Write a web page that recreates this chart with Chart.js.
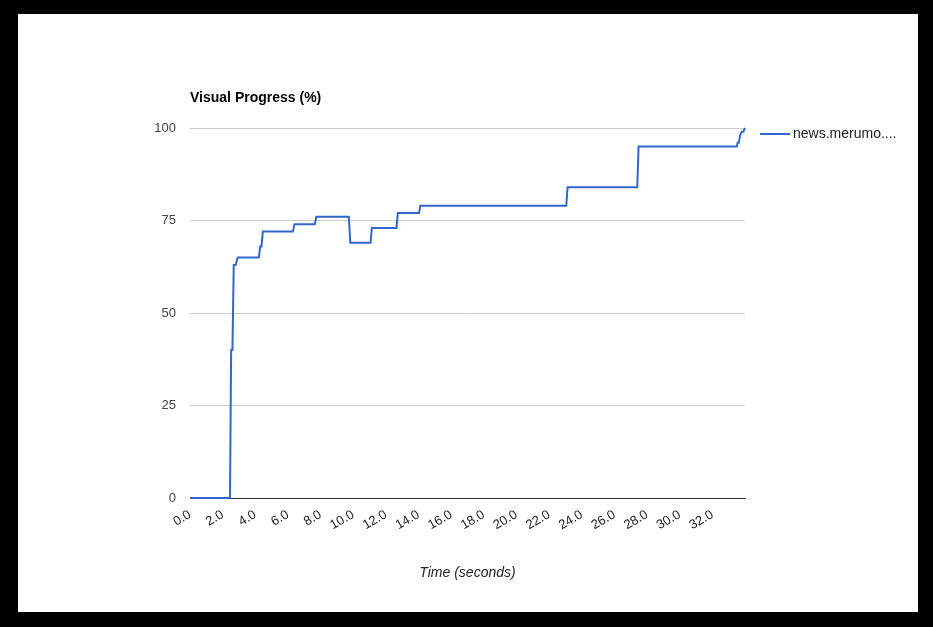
<!DOCTYPE html>
<html>
<head>
<meta charset="utf-8">
<script src="https://cdn.jsdelivr.net/npm/chart.js@4.4.1/dist/chart.umd.min.js"></script>
<style>
  html, body { margin: 0; padding: 0; background: #000; }
  #wrap { position: absolute; left: 18px; top: 14px; width: 900px; height: 598px; background: #fff; }
</style>
</head>
<body>
<div id="wrap"><canvas id="myChart"></canvas></div>
<script>
// Visual progress over time
var seriesLabel = "news.merumo....";
var times    = [0, 2.45, 2.52, 2.6, 2.68, 2.8, 2.92, 4.22, 4.3, 4.38, 4.46, 6.3, 6.4, 7.65, 7.74, 9.73, 9.82, 11.06, 11.14, 12.65, 12.73, 14.03, 14.11, 23.05, 23.13, 27.4, 27.48, 33.5, 33.55, 33.62, 33.7, 33.8, 33.9, 34.0];
var progress = [0, 0,    40,   40,  63,   63,  65,   65,   68,  68,   72,   72,  74,  74,   76,   76,   69,   69,    73,    73,    77,    77,    79,    79,    84,    84,   95,    95,   96,    96,    98,   99,   99,   100];
var xTicks = [0, 2, 4, 6, 8, 10, 12, 14, 16, 18, 20, 22, 24, 26, 28, 30, 32];
var yTicks = [0, 25, 50, 75, 100];

var points = times.map((t, i) => ({ x: t, y: progress[i] }));

// titles + legend drawn like the google chart
var extras = {
  id: "extras",
  afterDraw(chart) {
    let c = chart.ctx;
    let a = chart.chartArea;
    c.save();
    c.fillStyle = "#000";
    c.font = "bold 14px 'Liberation Sans', Arial, sans-serif";
    c.textBaseline = "middle";
    c.textAlign = "left";
    c.fillText("Visual Progress (%)", a.left, a.top - 30);

    c.fillStyle = "#222";
    c.font = "italic 14px 'Liberation Sans', Arial, sans-serif";
    c.textAlign = "center";
    c.fillText("Time (seconds)", (a.left + a.right) / 2, a.bottom + 75);

    // legend
    let ds = chart.data.datasets[0];
    c.strokeStyle = ds.borderColor;
    c.lineWidth = 2;
    c.beginPath();
    c.moveTo(a.right + 15, a.top + 6);
    c.lineTo(a.right + 45, a.top + 6);
    c.stroke();
    c.font = "14px 'Liberation Sans', Arial, sans-serif";
    c.textAlign = "left";
    c.fillText(ds.label, a.right + 48, a.top + 6);
    c.restore();
  }
};

var ctx = document.getElementById("myChart").getContext("2d");
var myChart = new Chart(ctx, {
  type: "line",
  data: {
    datasets: [
      {
        label: seriesLabel,
        data: points,
        borderColor: "#3366cc",
        borderWidth: 2,
        pointRadius: 0,
        tension: 0,
        fill: false,
        clip: false
      }
    ]
  },
  options: {
    responsive: true,
    maintainAspectRatio: false,
    animation: false,
    layout: { padding: { left: 132, right: 173, top: 114, bottom: 64 } },
    plugins: { legend: { display: false }, tooltip: { enabled: false } },
    scales: {
      x: {
        type: "linear",
        min: 0,
        max: 34,
        afterBuildTicks: scale => { scale.ticks = xTicks.map(v => ({ value: v })); },
        afterFit: scale => { scale.height = 50; },
        grid: { display: false, drawTicks: false },
        border: { color: "#333", width: 1 },
        ticks: {
          minRotation: 30,
          maxRotation: 30,
          padding: 9,
          color: "#222",
          font: { family: "'Liberation Sans', Arial, sans-serif", size: 13 },
          callback: v => v.toFixed(1)
        }
      },
      y: {
        min: 0,
        max: 100,
        afterBuildTicks: scale => { scale.ticks = yTicks.map(v => ({ value: v })); },
        afterFit: scale => { scale.width = 40; },
        grid: { color: "#cccccc", drawTicks: false },
        border: { display: false },
        ticks: {
          padding: 14,
          color: "#444",
          font: { family: "'Liberation Sans', Arial, sans-serif", size: 13 }
        }
      }
    }
  },
  plugins: [extras]
});
</script>
</body>
</html>
